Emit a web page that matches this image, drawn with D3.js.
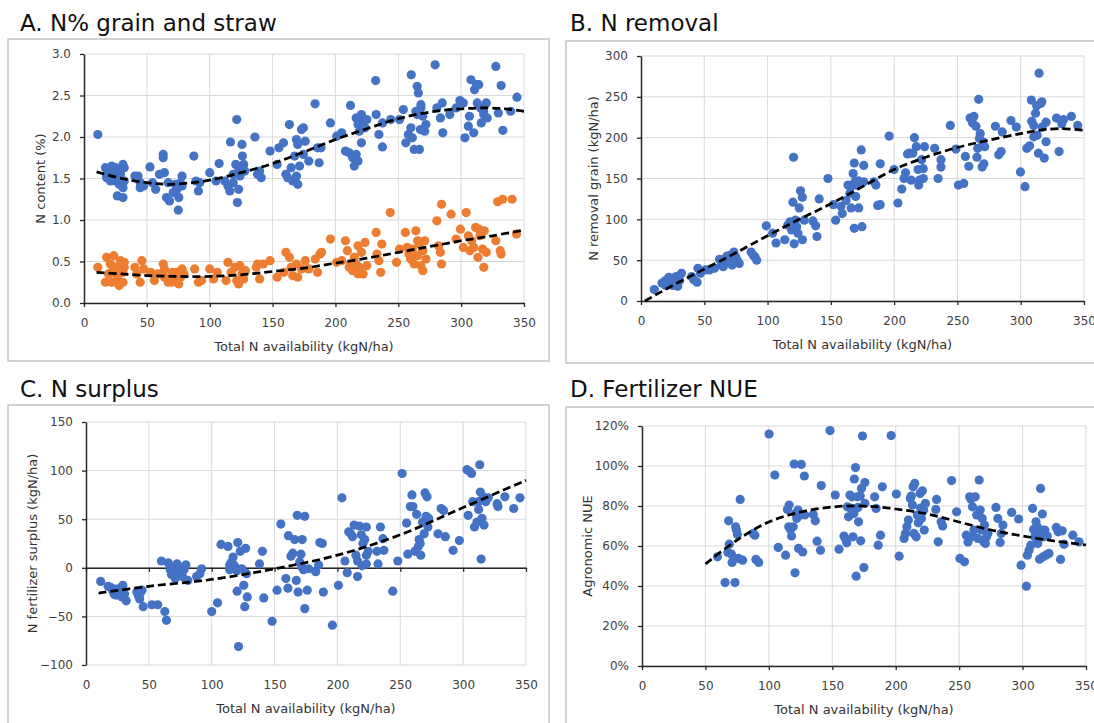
<!DOCTYPE html>
<html>
<head>
<meta charset="utf-8">
<script src="https://cdn.jsdelivr.net/npm/d3@7"></script>
<style>
  body { margin: 0; background: #fff; }
  svg { display: block; font-family: 'DejaVu Sans', Verdana, sans-serif; }
</style>
</head>
<body>
<svg width="1094" height="723"></svg>
<script>
// Data: [total N availability, value]
const xTicks = [0, 50, 100, 150, 200, 250, 300, 350]
const nContentTicks = [0, 0.5, 1, 1.5, 2, 2.5, 3]
const removalTicks = [0, 50, 100, 150, 200, 250, 300]
const surplusTicks = [-100, -50, 0, 50, 100, 150]
const nueTicks = [0, 20, 40, 60, 80, 100, 120]

const grainN = [
  [11,2.03],[17,1.63],[19.5,1.61],[22,1.65],[25,1.63],[18,1.55],[22,1.55],[26.5,1.59],[31,1.67],[32,1.63],
  [29,1.55],[25,1.47],[28,1.43],[21,1.47],[18,1.51],[31,1.39],[26.5,1.29],[31,1.27],[32,1.47],[25,1.53],[23.7,1.59],
  [40.5,1.53],[43,1.53],[44.7,1.45],[44.7,1.39],[47.5,1.41],
  [52.5,1.64],[54.5,1.45],[57,1.37],[60,1.55],[63,1.79],[63,1.75],[64,1.57],[67,1.45],[65.6,1.27],[68,1.23],
  [71,1.33],[72.6,1.43],[74,1.37],[75.4,1.27],[75,1.12],[76.8,1.45],[78,1.53],[78,1.41],
  [87.4,1.77],[89,1.47],[91,1.35],[92,1.45],
  [100,1.57],[105,1.47],[107.5,1.68],[116.5,1.94],[112,1.47],[114.5,1.41],[116,1.35],[118.7,1.45],[120.7,1.67],
  [121.5,2.21],[122,1.21],[123,1.37],[124,1.53],[125.7,1.91],[126,1.77],[127,1.67],[128,1.59],[118.7,1.55],[123,1.63],
  [136,2.0],[138,1.55],[139.7,1.59],[141,1.51],[148,1.83],[153.6,1.67],[155,1.87],[158.7,1.93],
  [163.4,2.15],[160.6,1.55],[162,1.51],[164.8,1.63],[166,1.47],[169,1.53],[170,1.43],[169,1.97],[170,1.91],
  [167.6,1.77],[171.5,1.65],[173,2.09],[174.5,2.11],[176,1.95],[174.5,1.79],[178.8,1.71],[183.8,2.40],[185.8,1.87],
  [187,1.69],[188.5,1.87],
  [196,2.17],[201,2.01],[205,2.05],[208,1.83],[211,1.81],[212,2.38],[213.7,1.75],[215,1.65],[216.5,1.79],[218,1.71],
  [216.5,2.23],[218,2.15],[219,2.21],[220.7,2.27],[222,2.19],[220.7,2.11],[219,2.07],[220.7,1.93],[223.5,2.11],[225,2.21],
  [232,2.68],[232.4,2.27],[234.6,2.03],[237.4,1.88],[237.4,2.17],[244,2.21],[251,2.21],[254,2.33],[256,1.93],[258,2.03],
  [260,2.11],[261.2,1.99],[260.3,2.75],[262.6,1.85],[264,2.31],[265,2.61],[266,2.53],[266.8,1.85],[267.6,2.09],
  [268,2.35],[269.5,2.25],[271,2.07],[272,2.15],[268,2.39],[265,2.27],
  [279.3,2.87],[280.7,2.35],[283.5,2.23],[285,2.41],[285.4,2.05],[291,2.27],[296,2.35],[299,2.44],[301.7,2.41],
  [303,1.99],[305.7,2.13],[306.6,2.25],[307.8,2.69],[310,2.05],[310.6,2.57],[312.3,2.63],[314,2.63],[312.8,2.41],
  [315.6,2.35],[316,2.17],[317.8,2.31],[320,2.41],[320.7,2.23],[327.6,2.85],[329.6,2.29],[331.8,2.62],[333.2,2.08],
  [339.4,2.31],[344.4,2.48],[318,2.27]
]
const strawN = [
  [11,0.43],[17,0.25],[18,0.55],[19.5,0.35],[21,0.47],[22,0.25],[23.7,0.57],[25,0.43],[26.5,0.31],[28,0.21],
  [29,0.51],[31,0.37],[32,0.43],[31,0.25],[22,0.37],[28,0.39],[32,0.49],[25,0.25],
  [40.5,0.43],[42,0.35],[44.7,0.25],[46,0.51],[47.5,0.41],[53,0.37],[56,0.27],[58.7,0.35],[63,0.47],[64,0.41],
  [64,0.31],[67,0.25],[70,0.25],[72.6,0.29],[74,0.37],[75.4,0.23],[76.8,0.31],[78,0.41],[79.6,0.35],[70,0.37],
  [88,0.41],[91,0.25],[93.5,0.27],[100,0.41],[103,0.29],[106,0.37],[113,0.27],[114.5,0.49],[117,0.37],[120,0.43],
  [121.5,0.27],[123,0.23],[124,0.45],[125.7,0.35],[127,0.29],[128.5,0.39],
  [137,0.43],[138,0.47],[139.7,0.29],[142.5,0.47],[148,0.51],[153.6,0.31],[159,0.37],[160.6,0.61],[163.4,0.55],
  [164.8,0.43],[166,0.33],[169,0.47],[170,0.31],[173,0.41],[176,0.51],[178.8,0.41],
  [184,0.53],[185.8,0.37],[187.7,0.59],[189,0.61],[196,0.77],[201,0.49],[205,0.51],[208,0.75],[209.5,0.63],[211,0.43],
  [212,0.47],[213.7,0.39],[215,0.55],[216.5,0.47],[218,0.69],[218,0.35],[219,0.43],[220.7,0.61],[222,0.35],[223.5,0.73],
  [225,0.45],
  [232.4,0.85],[233,0.59],[234.6,0.51],[236,0.37],[236.9,0.71],[243.6,1.09],[248.6,0.49],[251,0.65],[255.6,0.85],
  [257,0.67],[258.4,0.59],[259.8,0.53],[261.2,0.65],[262.6,0.47],[264,0.87],[265.4,0.57],[266.8,0.71],[268,0.45],
  [269.5,0.63],[271,0.75],[272,0.53],[269.5,0.39],[265.4,0.75],
  [280.7,0.99],[282,0.69],[284.4,1.19],[283.5,0.61],[284.4,0.47],[292,1.07],[296,0.77],[299.4,0.89],[301.7,0.67],
  [304,1.09],[305.7,0.81],[307,0.63],[308.4,0.75],[310,0.67],[311.5,0.91],[313.4,0.55],[315,0.81],[317,0.65],
  [318,0.43],[318.4,0.87],[320,0.61],[314.2,0.89],[327.6,0.75],[329,1.22],[331,0.63],[333,1.25],[331.8,0.59],
  [340.5,1.25],[344,0.83]
]
const grainTrend = [[10,1.58],[30,1.5],[50,1.45],[65,1.43],[80,1.44],[100,1.48],[125,1.57],[150,1.68],[175,1.82],
  [200,1.97],[225,2.1],[250,2.22],[275,2.3],[300,2.34],[320,2.35],[335,2.34],[350,2.31]]
const strawTrend = [[10,0.37],[30,0.35],[50,0.33],[75,0.32],[100,0.32],[125,0.34],[150,0.38],[175,0.42],
  [200,0.48],[225,0.54],[250,0.61],[275,0.68],[300,0.75],[325,0.81],[350,0.88]]

const removal = [
  [10.5,14],[16.6,22],[19.4,19],[21,25],[22,29],[23.5,21],[25,27],[26,23],[27.7,30],[29,21],[30.5,25],[32,34],
  [29,18],[25,19],[19.4,25],
  [40,30],[41.6,26],[44.3,23],[45,40],[47,34],
  [51,38],[54,38],[58,40],[62,51],[63.7,44],[65,42],[66.5,52],[68,55],[69,48],[70.6,56],[72,46],[73.4,60],[74.8,54],
  [76,50],[77.6,46],[72,44],
  [87,60],[88.7,56],[90,54],[91.4,50],[99,92],[104,83],[106.7,71],[113.6,75],[116,93],[117.8,97],[119,87],[120,121],
  [120.5,176],[121,70],[122,99],[123,91],[124,83],[125,114],[126,135],[127.5,127],[127.5,75],[129,99],
  [135.8,98],[138,92],[139,79],[140.8,125],[147.7,150],[153.8,99],[152,118],[158,116],[159,107],[162,123],[163.5,142],
  [165,132],[166,140],[167.6,156],[168.5,169],[169,146],[169.6,128],[170.4,142],[171.8,147],[172,114],[168.5,89],
  [174.6,91],[174,185],[176,166],[176,146],[166,114],
  [184,146],[185.6,142],[187,117],[189,118],[189,168],[196,202],[200,161],[203,120],[206,137],[207.8,150],[209,157],
  [210.6,180],[212,181],[213.4,148],[214.7,181],[216,200],[217.5,189],[218.9,161],[220,148],[221.7,173],[223,162],
  [223,150],[219.4,142],[224,189],
  [232,187],[234.7,150],[237,164],[237,173],[244.4,215],[248.8,186],[250.8,142],[255,144],[256.3,177],[259,165],
  [260,224],[262,218],[263,226],[264.6,214],[266,187],[265.4,176],[266.8,247],[268,205],[269.5,164],[270.9,168],
  [271.5,189],[270,195],[267.4,199],
  [280,214],[282.6,179],[284.5,183],[285.4,207],[292.3,221],[296.5,213],[299.8,158],[303.4,140],[304.8,187],[307,190],
  [308.4,246],[308.7,220],[310.3,215],[311.7,230],[313,203],[314,181],[314.5,279],[316,242],[316.7,244],[317,213],
  [318.6,175],[320,219],[320,195],[312.6,239],[310.3,201],
  [328.3,224],[330.3,183],[332.5,217],[340,226],[345,215],[333.8,222]
]
const removalTrend = [[3,0],[25,19],[50,39],[75,59],[100,80],[125,100],[150,119],[175,140],[200,161],[225,176],
  [250,188],[275,197],[300,205],[315,209],[330,211],[350,209]]

const surplus = [
  [11.7,-14],[17.6,-19],[19.5,-20],[21,-23],[22.3,-27],[23.7,-22],[25,-28],[26.5,-25],[28,-20],[29.3,-18],[30.7,-27],
  [32,-34],[28.7,-30],[23.7,-28],
  [40.4,-25],[41.8,-29],[43.2,-26],[44.6,-23],[42.7,-32],[45.5,-40],[52.4,-38],[57,-38],[60,7],[62.7,-45],[64,-54],
  [65.5,5],[67,-2],[68,-7],[69.7,1],[71,-4],[72.4,4],[74,-6],[75.3,-1],[76.7,-9],[78,-2],[79.5,3],[71,-11],[74,1],
  [81,-13],[88,-9],[90.6,-6],[92,-1],[100,-45],[104.6,-36],[107.4,24],[113,22],[114.3,3],[115.7,6],[117,11],[118.5,1],
  [120,-3],[120.2,-24],[120.7,26],[121.3,-81],[122.7,17],[124,-1],[125.5,-18],[126.3,-40],[127,20],[127.7,-6],
  [128.3,-30],[117,4],[114.3,-2],
  [138,4],[140.3,17],[141.4,-31],[148,-55],[152,-23],[155,45],[159,-11],[160.6,-21],[161,33],[163,12],[164.5,15],
  [166,29],[167.3,-13],[168,54],[168.7,-25],[170,6],[171,14],[172,29],[173,-2],[174,53],[174,-42],[176,-23],[177,-1],
  [171.6,1],
  [182.7,-4],[185,3],[186,26],[188,25],[188.8,-25],[196,-59],[200.8,-18],[203.6,72],[206,7],[207.8,-5],[209,37],
  [210.6,35],[212,32],[213.3,44],[214.7,13],[216,7],[216,-9],[217.5,43],[219,34],[219.5,2],[220.3,25],[221.7,29],
  [223,4],[223,42],[224.5,17],[223,13],
  [231.5,17],[232.3,4],[234.2,42],[236.2,30],[237,18],[244,-24],[248,7],[251.5,97],[255,46],[256,14],[258,63],
  [259.3,75],[260,63],[261.6,17],[263,55],[264.4,22],[265,29],[266.3,13],[267.7,47],[269,35],[269.7,77],[270.5,53],
  [271.3,73],[272,42],[272.5,51],[265.8,25],
  [280,35],[282.5,61],[284.4,59],[285.8,32],[292,18],[297,28],[303,101],[305.3,99],[306.7,97],[304,54],[307.6,68],
  [309,42],[311,47],[312.3,60],[313.2,106],[313.7,78],[314.3,9],[315,51],[316.6,44],[316,73],[318,68],[320,72],
  [312.3,68],
  [327,66],[327.7,63],[333.2,73],[340.2,61],[345.2,72]
]
const surplusTrend = [[10,-26],[50,-19],[100,-12],[150,-1],[200,13],[250,34],[300,62],[350,90]]

const nue = [
  [59.5,54.6],[65.5,41.7],[68.3,72.6],[68.8,60.9],[67.7,56.8],[70.5,55.9],[71,51.8],[73.3,41.7],[74.4,68],[75.2,65.8],
  [73.8,69.6],[76,53.8],[77.4,83.3],[79.3,52.9],[87.6,66.3],[89.8,53.3],[92,51.8],[89,65.4],
  [100.2,116],[104.7,95.5],[107.4,59.3],[113.2,55.4],[114.6,78.3],[116,80.5],[115.7,69.6],[117,68.3],[117.9,65],
  [119.2,69.6],[120,101],[120.6,46.6],[121,76.3],[122,73.8],[123,78],[123.4,58.8],[124.8,75.5],[125.6,100.8],
  [126.7,57],[128,95],[128.3,75.5],
  [135,75.8],[136.6,72.6],[138,62.4],[140.7,57.9],[141.3,90.2],[148.2,117.7],[152.3,85.5],[155.3,58.4],[159.2,65],
  [160.6,63.4],[161.4,61.6],[161.9,79.6],[162.8,74.6],[163.9,85.5],[164.7,78.8],[165.5,84.6],[166.3,64.6],[167,76.3],
  [167.4,93.5],[168.3,99.2],[168.8,44.9],[169.7,84.6],[170.2,79.3],[170.7,72.1],[172.4,62.6],[173,88.8],[173.8,115],
  [174.9,49.2],[175.7,91.7],[175.7,81.3],[172,85],
  [183.4,84.6],[184.5,78.8],[186.2,60.4],[188,65.4],[189.5,89.6],[196.4,115.2],[200.5,86],[202.7,54.9],[206.6,63.8],
  [207.7,66.3],[208.8,69.6],[210,73],[211.5,83.8],[212.3,85],[213.2,80.5],[213.7,89.6],[214.3,66.3],[215,91.3],
  [216.2,64.6],[217,75.5],[217.8,71.6],[219.2,86.3],[220.3,73.8],[221,87.6],[222,78],[222.5,68],[223.4,81.3],[219.7,79],
  [232.2,83.3],[231.6,78.3],[233.5,62.1],[235.8,72.1],[237,70],[244,92.7],[248,77.1],[250.6,53.8],[254.2,52.1],
  [255.6,65.4],[257,62],[258.3,84.6],[259.2,83.5],[259.7,64.6],[260.5,79.6],[261.6,68],[262.7,84.6],[263.8,75.5],
  [264.7,63.8],[265.8,93],[266.6,78],[267.4,68],[268.2,73.8],[269.3,62.1],[270,70.5],[270.7,61.3],[271.6,64.6],
  [272.7,66.3],
  [279,79.3],[280.5,73.8],[282.3,61.8],[284.5,70.5],[283.2,66.3],[291.4,76.8],[296.9,73.5],[298.8,50.4],[303,39.9],
  [303.8,55.4],[305.1,57.9],[306.5,60.4],[307.9,78.8],[308.7,68.3],[309.6,64.6],[310.6,72.1],[311.5,69.6],[312,61.3],
  [312.9,65],[313.4,53.4],[314.2,88.8],[314.8,68],[315.6,76],[316.2,54.6],[316.7,64.6],[317.5,68],[318.4,55.4],
  [319.5,65],[320.8,56.3],
  [326.6,69.3],[328,67.1],[329.9,53.3],[331.3,67.6],[332.7,60.9],[339.6,65.4],[344.5,62.1]
]
const nueTrend = [[50,51],[75,63],[100,72],[125,77],[150,79.5],[175,80],[200,78.5],[225,76],[250,72],[275,68],
  [300,65],[325,62.5],[350,60.5]]

const blue = '#4472C4'
const orange = '#ED7D31'

const panels = [
  { title: 'A. N% grain and straw', titleXY: [20, 31], box: [8, 39, 541, 322], xr: [84, 524], yr: [303, 54],
    yDomain: [0, 3], yTicks: nContentTicks, yFmt: d3.format('.1f'), yTitle: 'N content (%)', yTitleX: 40,
    series: [{ data: grainN, color: blue }, { data: strawN, color: orange }], trends: [grainTrend, strawTrend] },
  { title: 'B. N removal', titleXY: [570, 31], box: [566, 41, 560, 322], xr: [641, 1084], yr: [301, 56],
    yDomain: [0, 300], yTicks: removalTicks, yFmt: d3.format('d'), yTitle: 'N removal grain (kgN/ha)', yTitleX: 593,
    series: [{ data: removal, color: blue }], trends: [removalTrend] },
  { title: 'C. N surplus', titleXY: [20, 397], box: [8, 405, 541, 340], xr: [86, 526], yr: [665, 422],
    yDomain: [-100, 150], yTicks: surplusTicks, yFmt: d3.format('d'), yTitle: 'N fertilizer surplus (kgN/ha)', yTitleX: 32,
    series: [{ data: surplus, color: blue }], trends: [surplusTrend], xAtZero: true },
  { title: 'D. Fertilizer NUE', titleXY: [570, 397], box: [566, 407, 560, 340], xr: [642, 1086], yr: [666, 426],
    yDomain: [0, 120], yTicks: nueTicks, yFmt: d => d + '%', yTitle: 'Agronomic NUE', yTitleX: 587,
    series: [{ data: nue, color: blue }], trends: [nueTrend] }
]

const svg = d3.select('svg')

panels.forEach((p, i) => {
  const g = svg.append('g')
  const x = d3.scaleLinear().domain([0, 350]).range(p.xr)
  const y = d3.scaleLinear().domain(p.yDomain).range(p.yr)
  const yBase = p.yr[0]
  const yZero = p.xAtZero ? y(0) : yBase

  // frame + title
  g.append('rect')
    .attr('x', p.box[0]).attr('y', p.box[1]).attr('width', p.box[2]).attr('height', p.box[3])
    .attr('fill', 'none').attr('stroke', '#c4c4c4').attr('stroke-width', 1.5)
  g.append('text').attr('x', p.titleXY[0]).attr('y', p.titleXY[1])
    .attr('font-size', 23).attr('fill', '#111').text(p.title)

  // gridlines
  g.append('g').selectAll('line').data(xTicks.slice(1)).join('line')
    .attr('x1', d => x(d)).attr('x2', d => x(d)).attr('y1', p.yr[1]).attr('y2', yBase)
    .attr('stroke', '#d9d9d9').attr('stroke-width', 1)
  g.append('g').selectAll('line').data(p.yTicks).join('line')
    .attr('x1', p.xr[0]).attr('x2', p.xr[1]).attr('y1', d => y(d)).attr('y2', d => y(d))
    .attr('stroke', '#d9d9d9').attr('stroke-width', 1)

  // y axis
  g.append('g').attr('transform', `translate(${p.xr[0]},0)`)
    .call(d3.axisLeft(y).tickValues(p.yTicks).tickFormat(p.yFmt).tickSize(4).tickSizeOuter(0).tickPadding(9))
  // x axis line (through zero in C) and labels at the bottom
  g.append('g').attr('transform', `translate(0,${yZero})`)
    .call(d3.axisBottom(x).tickValues(xTicks).tickSize(4).tickSizeOuter(0).tickPadding(11)
      .tickFormat(p.xAtZero ? '' : d3.format('d')))
  if (p.xAtZero) {
    g.append('g').attr('transform', `translate(0,${yBase})`)
      .call(d3.axisBottom(x).tickValues(xTicks).tickSize(0).tickPadding(15).tickFormat(d3.format('d')))
      .call(a => a.select('.domain').remove())
  }
  g.selectAll('.domain').attr('stroke', '#262626').attr('stroke-width', 1.5)
  g.selectAll('.tick line').attr('stroke', '#262626').attr('stroke-width', 1.3)
  g.selectAll('.tick text').attr('font-family', 'DejaVu Sans, sans-serif').attr('font-size', 12).attr('fill', '#404040')

  // axis titles
  g.append('text').attr('x', (p.xr[0] + p.xr[1]) / 2).attr('y', yBase + 48)
    .attr('text-anchor', 'middle').attr('font-size', 13).attr('fill', '#333')
    .text('Total N availability (kgN/ha)')
  g.append('text')
    .attr('transform', `translate(${p.yTitleX},${(p.yr[0] + p.yr[1]) / 2}) rotate(-90)`)
    .attr('text-anchor', 'middle').attr('dy', '0.35em').attr('font-size', 13).attr('fill', '#333')
    .text(p.yTitle)

  // points
  p.series.forEach(s => {
    g.append('g').selectAll('circle').data(s.data).join('circle')
      .attr('cx', d => x(d[0])).attr('cy', d => y(d[1])).attr('r', 4.6)
      .attr('fill', s.color)
  })

  // trend lines
  const line = d3.line().x(d => x(d[0])).y(d => y(d[1])).curve(d3.curveCatmullRom)
  p.trends.forEach(t => {
    g.append('path').attr('d', line(t)).attr('fill', 'none')
      .attr('stroke', '#000').attr('stroke-width', 2.75).attr('stroke-dasharray', '8,4')
  })
})
</script>
</body>
</html>
